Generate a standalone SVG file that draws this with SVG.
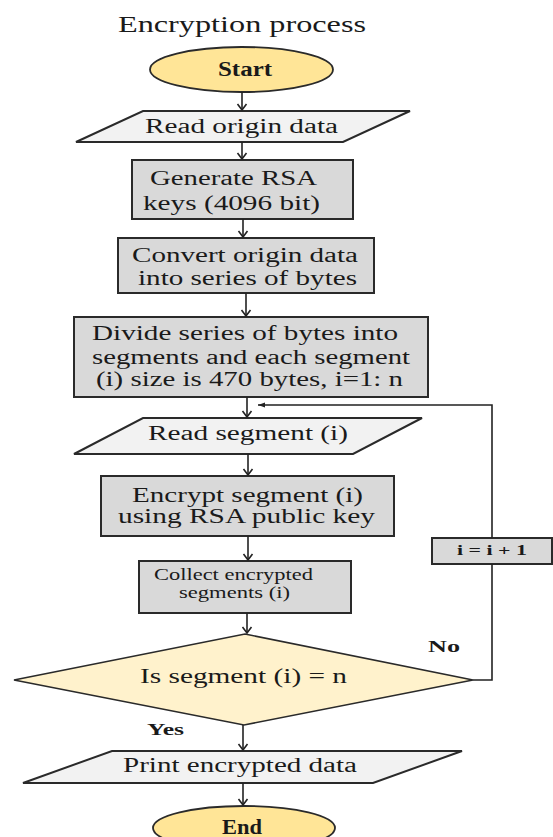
<svg xmlns="http://www.w3.org/2000/svg" width="553" height="837" viewBox="0 0 553 837">
<defs>
<marker id="arr" markerUnits="userSpaceOnUse" markerWidth="12" markerHeight="12" viewBox="0 0 12 12" refX="11" refY="6" orient="auto">
<path d="M5,1.5 L11,6 L5,10.5" fill="none" stroke="#222" stroke-width="1.6"/>
</marker>
<marker id="arrL" markerUnits="userSpaceOnUse" markerWidth="12" markerHeight="12" viewBox="0 0 12 12" refX="11" refY="6" orient="auto">
<path d="M11,6 L4,3.5 L4,8.5 Z" fill="#222"/>
</marker>
</defs>
<style>
text{font-family:"Liberation Serif","Times New Roman",serif;fill:#1a1a1a;}
.t{font-size:20px;}
.s{font-size:16px;}
.b{font-weight:bold;}
.term{fill:#ffe597;stroke:#2a2a2a;stroke-width:1.8;}
.proc{fill:#d9d9d9;stroke:#2a2a2a;stroke-width:2;}
.io{fill:#f2f2f2;stroke:#2a2a2a;stroke-width:2;}
.dec{fill:#fff2cc;stroke:#2a2a2a;stroke-width:1.6;}
.c{fill:none;stroke:#222;stroke-width:1.6;}
</style>
<rect width="553" height="837" fill="#fff"/>
<text x="118" y="32" style="font-size:24px" textLength="248" lengthAdjust="spacingAndGlyphs">Encryption process</text>

<g id="start">
<ellipse class="term" cx="241.5" cy="69.5" rx="91.5" ry="22.5"/>
<text class="t b" x="218" y="76" textLength="54" lengthAdjust="spacingAndGlyphs">Start</text>
</g>
<g id="read-origin">
<polygon class="io" points="143,111 410,111 343,142 76,142"/>
<text class="t" x="145" y="133" textLength="193" lengthAdjust="spacingAndGlyphs">Read origin data</text>
</g>
<g id="generate">
<rect class="proc" x="132" y="160" width="221" height="59"/>
<text class="t" x="150" y="185" textLength="167" lengthAdjust="spacingAndGlyphs">Generate RSA</text>
<text class="t" x="143" y="210" textLength="177" lengthAdjust="spacingAndGlyphs">keys (4096 bit)</text>
</g>
<g id="convert">
<rect class="proc" x="118" y="238" width="256" height="55"/>
<text class="t" x="132" y="262" textLength="226" lengthAdjust="spacingAndGlyphs">Convert origin data</text>
<text class="t" x="138" y="285" textLength="219" lengthAdjust="spacingAndGlyphs">into series of bytes</text>
</g>
<g id="divide">
<rect class="proc" x="74" y="317" width="354" height="80"/>
<text class="t" x="92" y="340" textLength="306" lengthAdjust="spacingAndGlyphs">Divide series of bytes into</text>
<text class="t" x="92" y="364" textLength="318" lengthAdjust="spacingAndGlyphs">segments and each segment</text>
<text class="t" x="96" y="386" textLength="307" lengthAdjust="spacingAndGlyphs">(i) size is 470 bytes, i=1: n</text>
</g>
<g id="read-segment">
<polygon class="io" points="143,418 422,418 353,454 74,454"/>
<text class="t" x="148" y="440" textLength="200" lengthAdjust="spacingAndGlyphs">Read segment (i)</text>
</g>
<g id="encrypt">
<rect class="proc" x="101" y="476" width="293" height="60"/>
<text class="t" x="132" y="502" textLength="231" lengthAdjust="spacingAndGlyphs">Encrypt segment (i)</text>
<text class="t" x="118" y="523" textLength="257" lengthAdjust="spacingAndGlyphs">using RSA public key</text>
</g>
<g id="collect">
<rect class="proc" x="139" y="561" width="212" height="52"/>
<text class="s" x="154" y="580" textLength="159" lengthAdjust="spacingAndGlyphs">Collect encrypted</text>
<text class="s" x="179" y="598" textLength="111" lengthAdjust="spacingAndGlyphs">segments (i)</text>
</g>
<g id="decision">
<polygon class="dec" points="245,634 473,680 244,725 14,680"/>
<text class="t" x="140" y="683" textLength="207" lengthAdjust="spacingAndGlyphs">Is segment (i) = n</text>
</g>
<g id="increment">
<rect class="proc" x="432" y="538" width="120" height="26"/>
<text class="b" style="font-size:15px" x="457" y="555" textLength="70" lengthAdjust="spacingAndGlyphs">i = i + 1</text>
</g>
<g id="print">
<polygon class="io" points="112,751 462,751 373,783 23,783"/>
<text class="t" x="123" y="772" textLength="234" lengthAdjust="spacingAndGlyphs">Print encrypted data</text>
</g>
<g id="end">
<ellipse class="term" cx="244" cy="828" rx="91" ry="22"/>
<text class="t b" x="222" y="834" textLength="40" lengthAdjust="spacingAndGlyphs">End</text>
</g>

<g id="connectors">
<line class="c" x1="242" y1="92" x2="242" y2="110" marker-end="url(#arr)"/>
<line class="c" x1="242" y1="142" x2="242" y2="159" marker-end="url(#arr)"/>
<line class="c" x1="243" y1="219" x2="243" y2="237" marker-end="url(#arr)"/>
<line class="c" x1="246" y1="293" x2="246" y2="316" marker-end="url(#arr)"/>
<line class="c" x1="247" y1="397" x2="247" y2="417" marker-end="url(#arr)"/>
<line class="c" x1="248" y1="454" x2="248" y2="475" marker-end="url(#arr)"/>
<line class="c" x1="248" y1="536" x2="248" y2="560" marker-end="url(#arr)"/>
<line class="c" x1="247" y1="613" x2="247" y2="633" marker-end="url(#arr)"/>
<line class="c" x1="243" y1="725" x2="243" y2="750" marker-end="url(#arr)"/>
<line class="c" x1="243" y1="783" x2="243" y2="805" marker-end="url(#arr)"/>
<polyline class="c" points="473,680 492,680 492,564"/>
<polyline class="c" points="492,538 492,405 258,405" marker-end="url(#arrL)"/>
<text class="s b" x="428" y="652" textLength="32" lengthAdjust="spacingAndGlyphs">No</text>
<text class="s b" x="147" y="735" textLength="37" lengthAdjust="spacingAndGlyphs">Yes</text>
</g>
</svg>
